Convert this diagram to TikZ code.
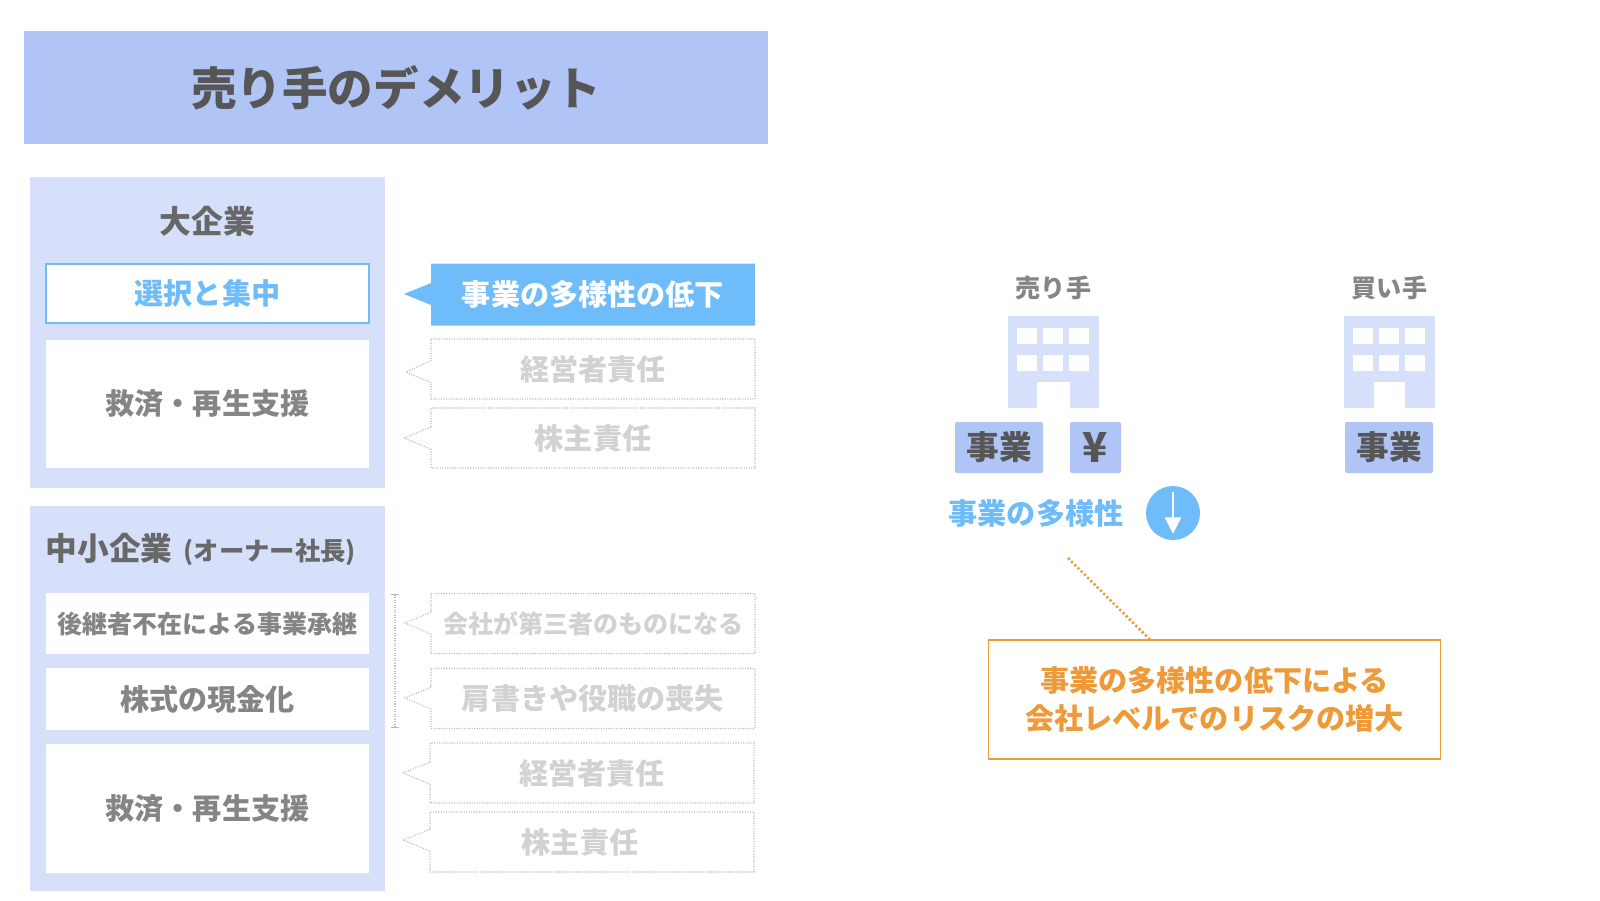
\documentclass[tikz,border=0pt]{standalone}
\usepackage{fontspec}
\usepackage{xcolor}
\setmainfont{Noto Sans CJK JP}
\usetikzlibrary{shapes.callouts, arrows.meta, positioning, calc}
\definecolor{headblue}{HTML}{B0C4F5}
\definecolor{panelblue}{HTML}{D6E0FA}
\definecolor{skyblue}{HTML}{6FBCFA}
\definecolor{riskorange}{HTML}{EE9A38}
\definecolor{inkdark}{HTML}{565656}
\definecolor{inkmid}{HTML}{686868}
\definecolor{inklight}{HTML}{858585}
\definecolor{inkfaint}{HTML}{D2D2D2}
\definecolor{dotgray}{HTML}{B8B8B8}
\tikzset{
  fsize/.style={font=\fontsize{#1}{28.5}\selectfont\bfseries},
  dotline/.style={draw=dotgray, line width=.8pt, dash pattern=on .8pt off 1.1pt},
  panelblk/.style={rectangle, fill=panelblue, minimum width=266.25pt,
    anchor=north west, outer sep=0pt},
  rowblk/.style={rectangle, fill=white, minimum width=242.25pt,
    text=inklight, fsize=21.85, outer sep=0pt, inner sep=0pt},
  bizblk/.style={rectangle, fill=headblue, rounded corners=1.5pt,
    minimum height=38.25pt, text=inkdark, fsize=24.5, inner sep=0pt,
    anchor=north west, outer sep=0pt},
  fadedcall/.style={rectangle callout, dotline, minimum width=243pt, minimum height=45pt,
    text=inkfaint, fsize=21.85, inner sep=0pt, outer sep=0pt,
    callout pointer width=16.5pt},
  bldg/.style={rectangle, fill=panelblue, minimum width=68.25pt,
    minimum height=69pt, anchor=north west, outer sep=0pt}
}
\begin{document}
\begin{tikzpicture}[x=.75pt, y=-.75pt]
  \useasboundingbox (0,0) rectangle (1600,900);

  \node[rectangle, fill=headblue, minimum width=558pt, minimum height=84.4pt,
        anchor=north west, text=inkdark, fsize=34.15] (title) at (24,31)
        {売り手のデメリット};

  \node[panelblk, minimum height=233.25pt] (bigpanel) at (30,177) {};
  \node[panelblk, minimum height=288.75pt] (smallpanel) at (30,506) {};

  \node[text=inkmid, fsize=23.8] (bighead) at (207.5,221) {大企業};
  \node[rowblk, draw=skyblue, line width=1.4pt, minimum height=44.25pt,
        text=skyblue, anchor=north west] (select) at (46,264) {選択と集中};
  \node[rowblk, minimum height=96pt, below=12.5pt of select] (reliefA) {救済・再生支援};

  \node[text=inkmid, fsize=23.8, anchor=west, inner sep=0pt] (smallhead) at (45.5,549.5)
        {中小企業\,{\fontsize{19}{24}\selectfont\ (オーナー社長)}};
  \node[rowblk, minimum height=46pt, fsize=18.75, anchor=north west] (succ) at (46,593)
        {後継者不在による事業承継};
  \node[rowblk, minimum height=46pt, below=10.5pt of succ] (cash) {株式の現金化};
  \node[rowblk, minimum height=96.75pt, below=10.5pt of cash] (reliefB) {救済・再生支援};

  \node[rectangle callout, fill=skyblue, minimum width=243pt, minimum height=46.5pt,
        text=white, fsize=21.85, inner sep=0pt, outer sep=0pt, anchor=north west,
        callout pointer width=16.5pt, callout absolute pointer={(404,294)}]
        (drop) at (431,263.5) {事業の多様性の低下};
  \node[fadedcall, anchor=north west, callout absolute pointer={(406,372)}]
        (dutyA) at (431,339) {経営者責任};
  \node[fadedcall, below=6.75pt of dutyA, callout absolute pointer={(404,438)}]
        (holdA) {株主責任};

  \node[fadedcall, fsize=18.75, anchor=north west, callout absolute pointer={(405,623)}]
        (owned) at (431,593.5) {会社が第三者のものになる};
  \node[fadedcall, below=11.25pt of owned, callout absolute pointer={(405,698)}]
        (title2) {肩書きや役職の喪失};
  \node[fadedcall, anchor=north west, callout absolute pointer={(403,773)}]
        (dutyB) at (430,743) {経営者責任};
  \node[fadedcall, below=6.75pt of dutyB, callout absolute pointer={(403,840)}]
        (holdB) {株主責任\kern18pt\relax};

  \coordinate (brtop) at (395,594);
  \coordinate (brbot) at (395,728);
  \draw[dotline, {Bar[width=6pt, line width=.5pt]}-{Bar[width=6pt, line width=.5pt]}] (brtop) -- (brbot);

  % buildings
  \foreach \bname/\bx in {seller/1008, buyer/1344}{
    \node[bldg] (\bname) at (\bx,316) {};
    \foreach \wx in {9,35,61}
      \foreach \wy in {12,39}
        \fill[white] (\bx+\wx,316+\wy) rectangle ++(20,16);
  }
  \fill[white] (1037,382) rectangle (1070,408);
  \fill[white] (1374,382) rectangle (1405,408);

  \node[text=inklight, fsize=18.8, above=8.6pt of seller] (sellerlbl) {売り手};
  \node[text=inklight, fsize=18.8, above=8.6pt of buyer] (buyerlbl) {買い手};

  \node[bizblk, minimum width=66pt] (bizA) at (955,422) {事業};
  \node[bizblk, fsize=31, minimum width=38.25pt] (yen) at (1070,422) {¥};
  \node[bizblk, minimum width=66pt] (bizB) at (1345,422) {事業};

  \node[text=skyblue, fsize=21.85] (divlbl) at (1036,513) {事業の多様性};
  \node[circle, fill=skyblue, minimum size=40.5pt, inner sep=0pt] (divcirc) at (1173,513) {};
  \draw[white, line width=2pt, -{Triangle[width=12pt, length=12.5pt]}]
    ($(divcirc.center)+(0,-21)$) -- ($(divcirc.center)+(0,21)$);

  \node[rectangle, draw=riskorange, line width=1pt, fill=white, minimum width=339pt,
        minimum height=89.25pt, align=center, text=riskorange, fsize=21.85,
        anchor=north west, outer sep=0pt] (risk) at (988.5,640)
        {事業の多様性の低下による\\会社レベルでのリスクの増大};

  \coordinate (divtail) at (1068,558);
  \draw[riskorange, line width=1.9pt, dash pattern=on 1.7pt off 1.7pt]
    (divtail) -- ($(risk.north west)!0.358!(risk.north east)$);
\end{tikzpicture}
\end{document}
